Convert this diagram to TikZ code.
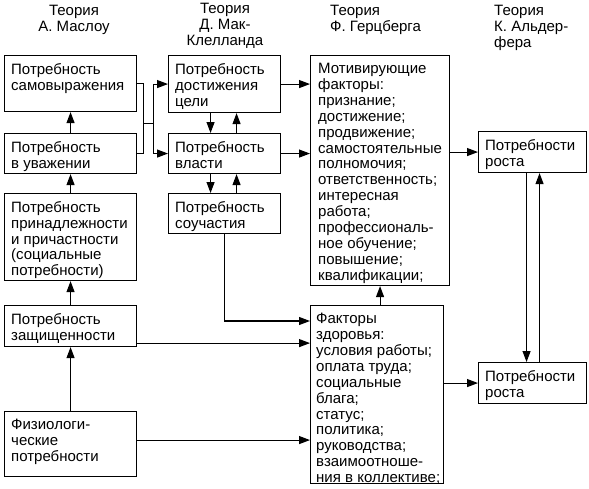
\documentclass[tikz,border=0pt]{standalone}
\usepackage{fontspec}
\setmainfont{Liberation Sans}
\usetikzlibrary{arrows.meta,calc}
\begin{document}
\begin{tikzpicture}[x=1pt,y=-1pt,
  box/.style={draw, line width=1.1pt, anchor=north west, inner sep=0pt},
  txt/.style={anchor=north west, inner sep=0pt, align=left, font=\fontsize{15}{15.9}\selectfont},
  hdr/.style={anchor=north, inner sep=0pt, align=center, font=\fontsize{15}{16}\selectfont},
  hdrl/.style={anchor=north west, inner sep=0pt, align=left, font=\fontsize{15}{16}\selectfont},
  conn/.style={line width=1.1pt},
  arr/.style={conn, -{Triangle[length=11pt,width=8pt]}}
]
\useasboundingbox (0,0) rectangle (589,488);

% headers
\node[hdr] (h1) at (74,5) {Теория\\А. Маслоу};
\node[hdr] (h2) at (225,3) {Теория\\Д. Мак-\\Клелланда};
\node[hdrl] (h3) at (330,5) {Теория\\Ф. Герцберга};
\node[hdrl] (h4) at (494,5) {Теория\\К. Альдер-\\фера};

% Maslow
\node[box, minimum width=132, minimum height=56] (sam) at (4,55) {};
\node[txt] at ($(sam.north west)+(7,8)$) {Потребность\\самовыражения};
\node[box, minimum width=132, minimum height=40] (uv) at (4,133) {};
\node[txt] at ($(uv.north west)+(7,8)$) {Потребность\\в уважении};
\node[box, minimum width=132, minimum height=87] (prin) at (4,193) {};
\node[txt] at ($(prin.north west)+(7,8)$) {Потребность\\принадлежности\\и причастности\\(социальные\\потребности)};
\node[box, minimum width=132, minimum height=41] (zash) at (4,305) {};
\node[txt] at ($(zash.north west)+(7,8)$) {Потребность\\защищенности};
\node[box, minimum width=132, minimum height=65] (fiz) at (4,411) {};
\node[txt] at ($(fiz.north west)+(7,8)$) {Физиологи-\\ческие\\потребности};

% McClelland
\node[box, minimum width=112, minimum height=57] (dost) at (168,55) {};
\node[txt] at ($(dost.north west)+(7,8)$) {Потребность\\достижения\\цели};
\node[box, minimum width=112, minimum height=40] (vlast) at (168,133) {};
\node[txt] at ($(vlast.north west)+(7,8)$) {Потребность\\власти};
\node[box, minimum width=112, minimum height=40] (souch) at (168,193) {};
\node[txt] at ($(souch.north west)+(7,8)$) {Потребность\\соучастия};

% Herzberg
\node[box, minimum width=139, minimum height=230] (motiv) at (310,55) {};
\node[txt] at ($(motiv.north west)+(8,8)$) {Мотивирующие\\факторы:\\признание;\\достижение;\\продвижение;\\самостоятельные\\полномочия;\\ответственность;\\интересная\\работа;\\профессиональ-\\ное обучение;\\повышение;\\квалификации;};
\node[box, minimum width=133, minimum height=178] (gig) at (310,305) {};
\node[txt] at ($(gig.north west)+(6,8)$) {Факторы\\здоровья:\\условия работы;\\оплата труда;\\социальные\\блага;\\статус;\\политика;\\руководства;\\взаимоотноше-\\ния в коллективе;};

% Alderfer
\node[box, minimum width=108, minimum height=41] (rost1) at (478,131) {};
\node[txt] at ($(rost1.north west)+(7,8)$) {Потребности\\роста};
\node[box, minimum width=108, minimum height=41] (rost2) at (478,362) {};
\node[txt] at ($(rost2.north west)+(7,8)$) {Потребности\\роста};

% Maslow arrows
\draw[arr] (uv.north) -- (sam.south);
\draw[arr] (prin.north) -- (uv.south);
\draw[arr] (zash.north) -- (prin.south);
\draw[arr] (fiz.north) -- (zash.south);

% bracket to McClelland
\coordinate (m1) at ($(sam.east)+(6,0)$);
\draw[conn] (sam.east) -- (m1) -- (m1 |- uv.east) -- (uv.east);
\coordinate (m2) at ($(m1)!0.57!(m1 |- uv.east)$);
\coordinate (m3) at ($(m2)+(10,0)$);
\draw[arr] (m2) -- (m3) |- (dost.west);
\draw[arr] (m3) |- (vlast.west);

% McClelland vertical arrows
\draw[arr] ($(dost.south)+(-14,0)$) -- ($(vlast.north)+(-14,0)$);
\draw[arr] ($(vlast.north)+(12,0)$) -- ($(dost.south)+(12,0)$);
\draw[arr] ($(vlast.south)+(-14,0)$) -- ($(souch.north)+(-14,0)$);
\draw[arr] ($(souch.north)+(12,0)$) -- ($(vlast.south)+(12,0)$);

% to Herzberg
\draw[arr] (dost.east) -- (dost.east -| motiv.west);
\draw[arr] (vlast.east) -- (vlast.east -| motiv.west);
\draw[arr] (souch.south) |- ($(gig.north west)+(0,16)$);
\coordinate (z1) at ($(zash.south east)+(0,-4)$);
\draw[arr] (z1) -- (z1 -| gig.west);
\coordinate (f1) at ($(fiz.east)+(0,-4)$);
\draw[arr] (f1) -- (f1 -| gig.west);
\coordinate (g1) at ($(gig.north)+(3,0)$);
\draw[arr] (g1) -- (g1 |- motiv.south);

% to Alderfer
\draw[arr] (motiv.east |- rost1.west) -- (rost1.west);
\draw[arr] (rost2.west -| gig.east) -- (rost2.west);
\draw[arr] ($(rost1.south)+(-6,0)$) -- ($(rost2.north)+(-6,0)$);
\draw[arr] ($(rost2.north)+(7,0)$) -- ($(rost1.south)+(7,0)$);
\end{tikzpicture}
\end{document}
